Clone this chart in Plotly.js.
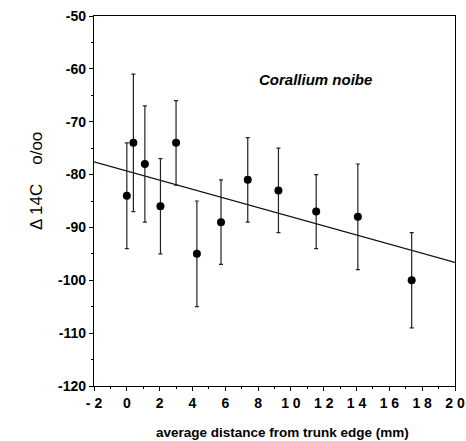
<!DOCTYPE html>
<html><head><meta charset="utf-8">
<script src="https://cdn.plot.ly/plotly-3.0.1.min.js"></script>
<style>html,body{margin:0;padding:0;background:#fff}#chart{width:466px;height:441px}</style>
</head><body><div id="chart"></div>
<script>
const distance = [0, 0.4, 1.1, 2.05, 3.0, 4.27, 5.74, 7.37, 9.24, 11.54, 14.08, 17.36];
const delta14C = [-84, -74, -78, -86, -74, -95, -89, -81, -83, -87, -88, -100];
const errorVal = [10, 13, 11, 9, 8, 10, 8, 8, 8, 7, 10, 9];
const fitX = [-2, 20];
const fitY = [-77.6, -96.6];
const xTickVals = [-2, 0, 2, 4, 6, 8, 10, 12, 14, 16, 18, 20];
const xTickText = ['- 2', '0', '2', '4', '6', '8', '1 0', '1 2', '1 4', '1 6', '1 8', '2 0'];
const yTickVals = [-50, -60, -70, -80, -90, -100, -110, -120];
const yTickText = ['-50', '-60', '-70', '-80', '-90', '-100', '-110', '-120'];

const fontFam = 'Liberation Sans, Arial, Helvetica, sans-serif';
const traces = [
  {x: fitX, y: fitY, mode: 'lines', line: {color: '#111', width: 1.2}, hoverinfo: 'skip'},
  {x: distance, y: delta14C, mode: 'markers', type: 'scatter',
   marker: {color: '#000', size: 8},
   error_y: {type: 'data', array: errorVal, visible: true, color: '#222', thickness: 1.2, width: 2}}
];
const axisCommon = {
  showline: true, linecolor: '#000', linewidth: 1.2, mirror: true,
  showgrid: false, zeroline: false, ticks: 'outside', ticklen: 4, tickwidth: 1, tickcolor: '#000',
  ticklabeloverflow: 'allow',
  tickfont: {family: fontFam, size: 14, color: '#000', weight: 'bold'}
};
const layout = {
  width: 466, height: 441,
  margin: {l: 94, r: 11, t: 16, b: 55},
  paper_bgcolor: '#fff', plot_bgcolor: '#fff',
  showlegend: false,
  xaxis: Object.assign({}, axisCommon, {
    range: [-2, 20], tickvals: xTickVals, ticktext: xTickText,
    minor: {dtick: 1, ticks: 'outside', ticklen: 2, tickcolor: '#000'}
  }),
  yaxis: Object.assign({}, axisCommon, {
    range: [-120, -50], tickvals: yTickVals, ticktext: yTickText,
    minor: {dtick: 5, ticks: 'outside', ticklen: 2, tickcolor: '#000'}
  }),
  annotations: [
    {x: 11.5, y: -62, xref: 'x', yref: 'y', showarrow: false,
     text: '<i><b>Corallium noibe</b></i>',
     font: {family: fontFam, size: 15, color: '#000'}},
    {x: 0, y: 0.554, xref: 'paper', yref: 'paper', xanchor: 'center', yanchor: 'middle',
     xshift: -58, textangle: -90, showarrow: false,
     text: 'Δ 14C    o/oo', font: {family: fontFam, size: 17, color: '#000'}},
    {x: 0.5, y: 0, xref: 'paper', yref: 'paper', xanchor: 'center', yanchor: 'middle',
     xshift: 8, yshift: -46, showarrow: false,
     text: 'average distance from trunk edge (mm)',
     font: {family: fontFam, size: 13.5, color: '#000', weight: 'bold'}}
  ]
};
Plotly.newPlot('chart', traces, layout, {staticPlot: true, displayModeBar: false});
</script></body></html>
